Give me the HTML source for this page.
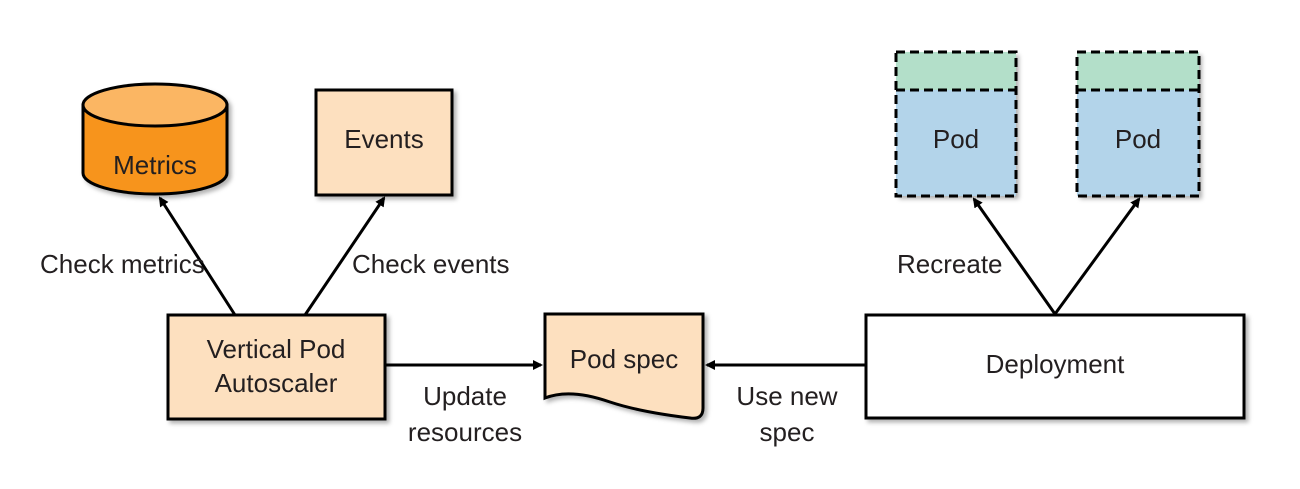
<!DOCTYPE html>
<html><head><meta charset="utf-8"><style>
html,body{margin:0;padding:0;background:#fff;}
svg text{font-family:"Liberation Sans Narrow","Liberation Sans",sans-serif;font-size:26px;fill:#231f20;}
</style></head><body>
<svg width="1300" height="484" viewBox="0 0 1300 484" xmlns="http://www.w3.org/2000/svg">
<defs>
<filter id="sh" x="-10%" y="-10%" width="130%" height="130%"><feDropShadow dx="3" dy="3" stdDeviation="2" flood-color="#000" flood-opacity="0.3"/></filter>
<marker id="ah" markerWidth="10" markerHeight="10" refX="8" refY="5" orient="auto" markerUnits="userSpaceOnUse" viewBox="0 0 10 10"><path d="M0,0 L10,5 L0,10 z" fill="#000"/></marker>
</defs>
<!-- Metrics cylinder -->
<g filter="url(#sh)">
<path d="M83,105 L83,173 A72,21 0 0 0 227,173 L227,105 Z" fill="#f7941d" stroke="#000" stroke-width="3"/>
<ellipse cx="155" cy="105" rx="72" ry="21" fill="#fbb664" stroke="#000" stroke-width="3"/>
</g>
<text x="155" y="174" text-anchor="middle">Metrics</text>
<!-- Events -->
<rect x="316" y="90" width="136" height="105" fill="#fde0bf" stroke="#000" stroke-width="3" filter="url(#sh)"/>
<text x="384" y="148" text-anchor="middle">Events</text>
<!-- VPA -->
<rect x="168" y="315" width="217" height="104" fill="#fde0bf" stroke="#000" stroke-width="3" filter="url(#sh)"/>
<text x="276" y="358" text-anchor="middle">Vertical Pod</text>
<text x="276" y="392" text-anchor="middle">Autoscaler</text>
<!-- Pod spec -->
<path d="M545,314 L703,314 L703,408 Q703,420 690,418 Q640,412 610,402 Q570,388 545,398 Z" fill="#fde0bf" stroke="#000" stroke-width="3" filter="url(#sh)"/>
<text x="624" y="368" text-anchor="middle">Pod spec</text>
<!-- Deployment -->
<rect x="866" y="315" width="378" height="103" fill="#fff" stroke="#000" stroke-width="3" filter="url(#sh)"/>
<text x="1055" y="373" text-anchor="middle">Deployment</text>
<!-- Pods -->
<g filter="url(#sh)">
<rect x="896" y="52" width="120" height="38" fill="#b3dfc9"/>
<rect x="896" y="90" width="120" height="106" fill="#b3d4ea"/>
<rect x="1077" y="52" width="122" height="38" fill="#b3dfc9"/>
<rect x="1077" y="90" width="122" height="106" fill="#b3d4ea"/>
</g>
<g fill="none" stroke="#000" stroke-width="3" stroke-dasharray="9,5">
<rect x="896" y="52" width="120" height="144"/><line x1="896" y1="90" x2="1016" y2="90"/>
<rect x="1077" y="52" width="122" height="144"/><line x1="1077" y1="90" x2="1199" y2="90"/>
</g>
<text x="956" y="148" text-anchor="middle">Pod</text>
<text x="1138" y="148" text-anchor="middle">Pod</text>
<!-- Connectors -->
<g stroke="#000" stroke-width="3" fill="none" marker-end="url(#ah)">
<line x1="235" y1="315" x2="160" y2="198"/>
<line x1="305" y1="315" x2="384" y2="198"/>
<line x1="386" y1="365" x2="541" y2="365"/>
<line x1="865" y1="365" x2="707" y2="365"/>
<line x1="1055" y1="314" x2="974" y2="199"/>
<line x1="1055" y1="314" x2="1139" y2="199"/>
</g>
<text x="40" y="273">Check metrics</text>
<text x="352" y="273">Check events</text>
<text x="465" y="405" text-anchor="middle">Update</text>
<text x="465" y="441" text-anchor="middle">resources</text>
<text x="787" y="405" text-anchor="middle">Use new</text>
<text x="787" y="441" text-anchor="middle">spec</text>
<text x="897" y="273">Recreate</text>
</svg>
</body></html>
